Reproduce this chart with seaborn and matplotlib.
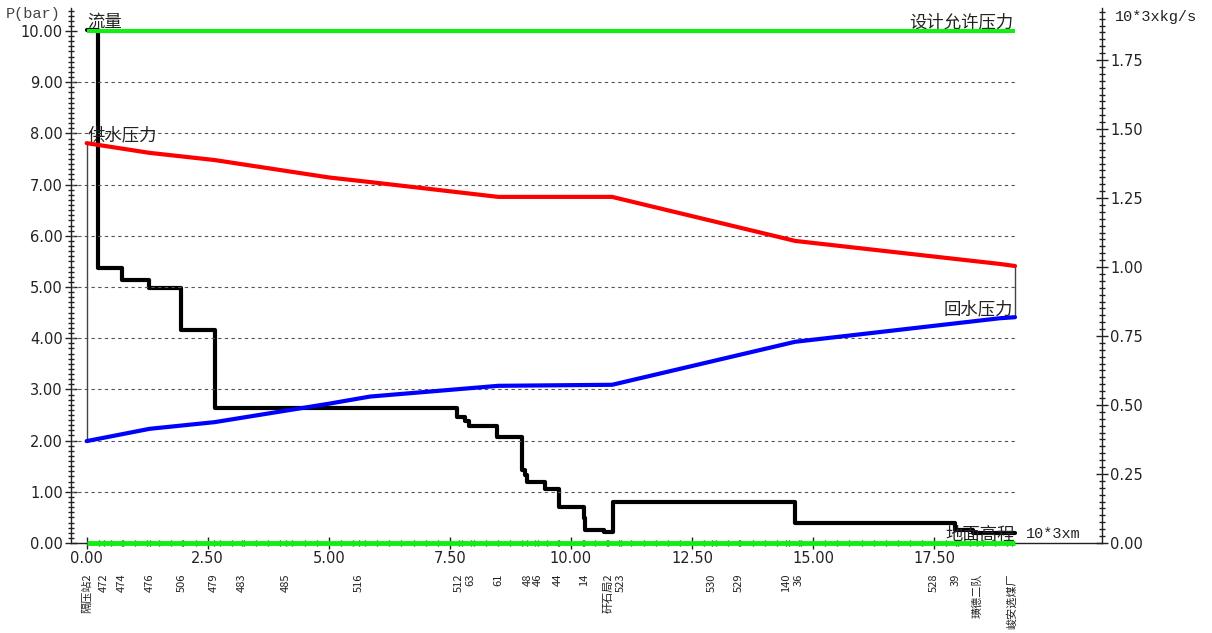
import numpy as np
import pandas as pd
import matplotlib
matplotlib.use('Agg')
import matplotlib.pyplot as plt
from matplotlib.ticker import MultipleLocator, FixedLocator, FormatStrFormatter
import seaborn as sns

# pipeline distance (10^3 m) at the pressure nodes
node_x = [0.0, 1.30, 2.64, 5.0, 5.85, 8.50, 10.85, 14.63, 18.86, 19.17]
supply_p = [7.81, 7.62, 7.48, 7.14, 7.05, 6.76, 6.76, 5.90, 5.45, 5.41]
return_p = [1.99, 2.23, 2.36, 2.72, 2.86, 3.07, 3.09, 3.93, 4.39, 4.41]

# flow (10^3 kg/s), stepped
flow_x = [0.0, 0.24, 0.72, 1.29, 1.94, 2.65, 7.64, 7.81, 7.90, 8.47, 8.98, 9.05,
          9.10, 9.47, 9.76, 10.27, 10.29, 10.68, 10.86, 14.63, 17.93, 18.30, 19.17]
flow = [1.86, 0.995, 0.953, 0.923, 0.772, 0.490, 0.458, 0.442, 0.424, 0.385, 0.264,
        0.246, 0.220, 0.195, 0.132, 0.091, 0.047, 0.040, 0.150, 0.071, 0.047, 0.036, 0.036]

design_p = 10.0
end_x = 19.17
x_ticks = [0.0, 2.5, 5.0, 7.5, 10.0, 12.5, 15.0, 17.5]

station_x = [0.0, 0.36, 0.72, 1.30, 1.96, 2.62, 3.20, 4.11, 5.62, 7.68, 7.93, 8.50,
             9.10, 9.32, 9.73, 10.27, 10.77, 11.03, 12.91, 13.47, 14.45, 14.71,
             17.50, 17.95, 18.39, 19.10]
station_names = ['隔压站2', '472', '474', '476', '506', '479', '483', '485', '516',
                 '512', '63', '61', '48', '46', '44', '14', '矸石局2', '523', '530',
                 '529', '140', '36', '528', '39', '璜德二队', '峻安选煤厂']

sns.set_style('ticks')
plt.rcParams['font.family'] = ['DejaVu Sans', 'Noto Sans CJK SC']
cjk = ['Noto Sans CJK SC', 'DejaVu Sans']

fig = plt.figure(figsize=(12.12, 6.33), dpi=100)
ax = fig.add_axes([0.0583, 0.1422, 0.8507, 0.8452])
ax2 = ax.twinx()

ymax = 10.45
ax.set_xlim(-0.33, 20.96)
ax.set_ylim(0, ymax)
ax2.set_ylim(0, ymax * 51.2 / 276)

# dashed grid only over the data range
ax.hlines(np.arange(1, 10), -0.33, end_x, colors='#555555', linestyles=(0, (3, 3)),
          linewidth=0.8, zorder=1)

pres = pd.DataFrame({'x': node_x, 'supply': supply_p, 'return': return_p})
sns.lineplot(data=pres, x='x', y='supply', ax=ax, color='#ff0000', linewidth=3, zorder=3)
sns.lineplot(data=pres, x='x', y='return', ax=ax, color='#0000ff', linewidth=3, zorder=3)

# thin connectors between supply and return at both ends
ax.vlines([0.0, end_x], [return_p[0], return_p[-1]], [supply_p[0], supply_p[-1]],
          colors='#444444', linewidth=1, zorder=2)

fl = pd.DataFrame({'x': flow_x, 'flow': flow})
sns.lineplot(data=fl, x='x', y='flow', ax=ax2, color='black', linewidth=3,
             drawstyle='steps-post', zorder=3)

# design pressure and ground elevation
ax.plot([0, end_x], [design_p, design_p], color='#11ee11', linewidth=3, zorder=5,
        solid_capstyle='butt')
ax.plot([0, end_x], [0, 0], color='#11ee11', linewidth=3.5, zorder=5,
        clip_on=False, solid_capstyle='butt')
ax2.set_zorder(0)
ax.set_zorder(1)
ax.patch.set_visible(False)

ax.set_xlabel('')
ax.set_ylabel('')
ax2.set_xlabel('')
ax2.set_ylabel('')

# ticks
ax.xaxis.set_major_locator(FixedLocator(x_ticks))
ax.xaxis.set_minor_locator(FixedLocator(sorted(set(list(np.arange(0, 19.2, 0.25)) + station_x))))
ax.xaxis.set_major_formatter(FormatStrFormatter('%.2f'))
ax.yaxis.set_major_locator(MultipleLocator(1.0))
ax.yaxis.set_minor_locator(MultipleLocator(0.1))
ax.yaxis.set_major_formatter(FormatStrFormatter('%.2f'))
ax2.yaxis.set_major_locator(MultipleLocator(0.25))
ax2.yaxis.set_minor_locator(MultipleLocator(0.025))
ax2.yaxis.set_major_formatter(FormatStrFormatter('%.2f'))

ax.tick_params(axis='x', which='major', direction='inout', length=8, width=1,
               labelsize=10.5, pad=2, colors='#222222')
ax.tick_params(axis='x', which='minor', direction='inout', length=4, width=1,
               colors='#222222')
ax.tick_params(axis='y', which='major', direction='inout', length=9, width=1,
               labelsize=10.5, pad=1, colors='#222222')
ax.tick_params(axis='y', which='minor', direction='inout', length=5, width=1,
               colors='#222222')
ax2.tick_params(axis='y', which='major', direction='inout', length=8, width=1,
                labelsize=10.5, pad=2, colors='#222222')
ax2.tick_params(axis='y', which='minor', direction='inout', length=5, width=1,
                colors='#222222')

for a in (ax, ax2):
    a.spines['top'].set_visible(False)
ax.spines['right'].set_visible(False)
ax2.spines['left'].set_visible(False)
ax2.spines['bottom'].set_visible(False)
for s in ('left', 'bottom'):
    ax.spines[s].set_color('#222222')
    ax.spines[s].set_linewidth(1)
ax2.spines['right'].set_color('#222222')
ax2.spines['right'].set_linewidth(1)

# series labels
lab = dict(fontsize=12.5, family=cjk, va='center', color='#222222')
ax.text(0.02, 10.18, '流量', ha='left', **lab)
ax.text(0.02, 7.97, '供水压力', ha='left', **lab)
ax.text(19.13, 10.18, '设计允许压力', ha='right', **lab)
ax.text(19.12, 4.57, '回水压力', ha='right', **lab)
ax.text(19.17, 0.16, '地面高程', ha='right', **lab)
ax.text(19.40, 0.17, '10*3xm', fontsize=11, family='Liberation Mono', va='center', ha='left',
        color='#222222')

fig.text(6 / 1212, 1 - 14 / 633, 'P(bar)', fontsize=11, family='Liberation Mono',
         va='center', ha='left', color='#444444')
fig.text(1115 / 1212, 1 - 17 / 633, '10*3xkg/s', fontsize=11, family='Liberation Mono',
         va='center', ha='left', color='#222222')

# station names under the axis
for sx, name in zip(station_x, station_names):
    ax.text(sx, -0.59, name, rotation=90, va='top', ha='center', fontsize=8,
            family=cjk, color='#222222', clip_on=False)

fig.savefig('out.png', dpi=100)
